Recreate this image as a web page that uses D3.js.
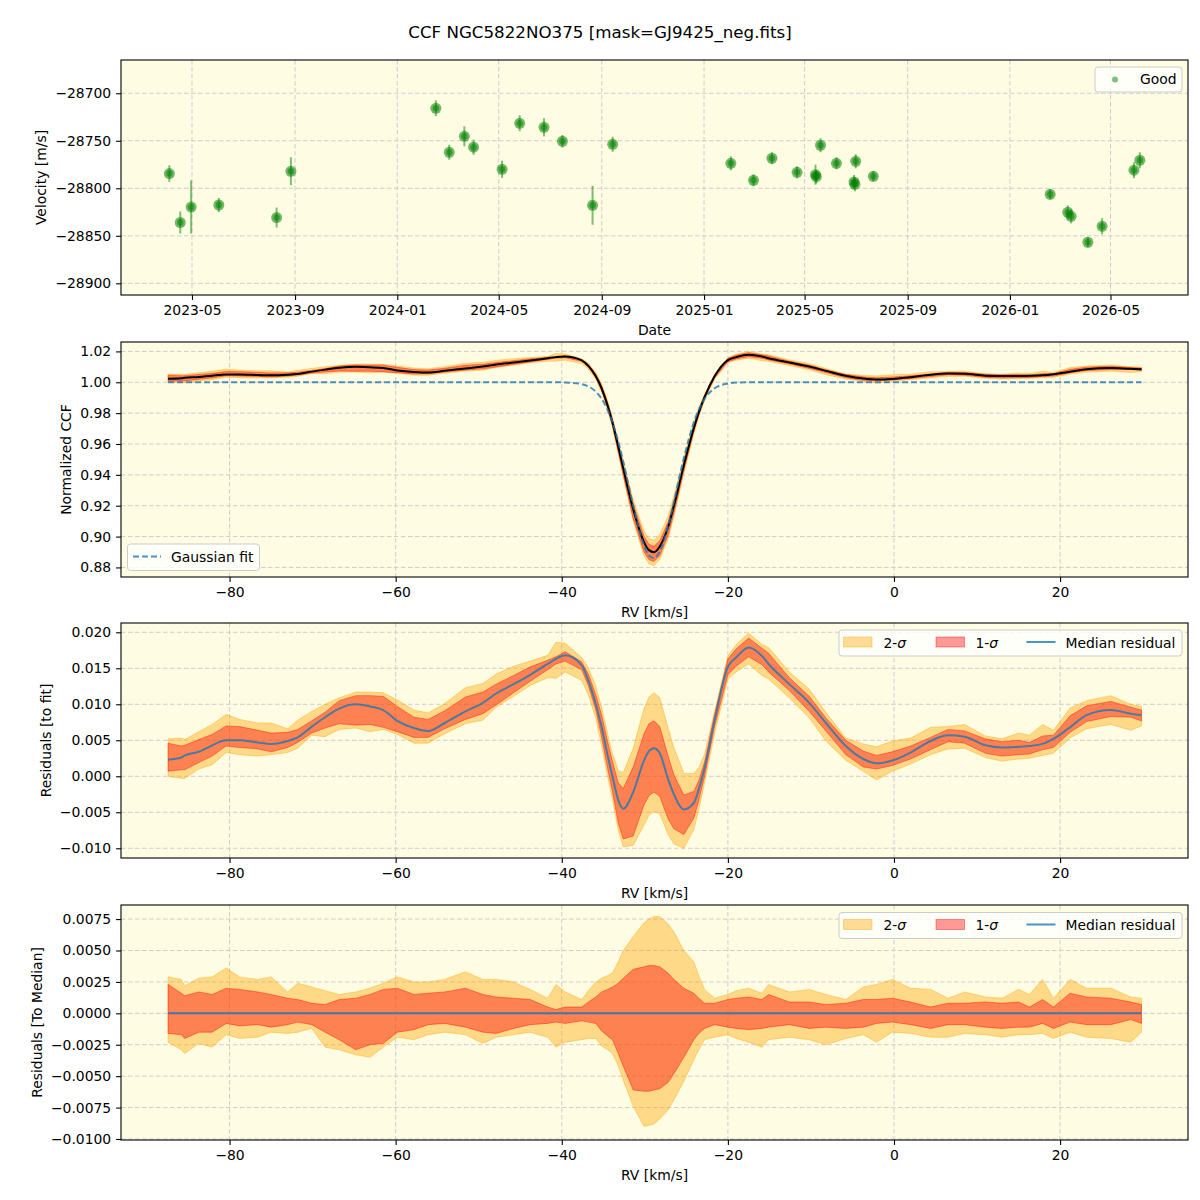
<!DOCTYPE html>
<html>
<head>
<meta charset="utf-8">
<title>CCF NGC5822NO375</title>
<script src="https://cdn.jsdelivr.net/npm/d3@7"></script>
<style>
    body { margin: 0; background: #fff; }
    svg text { font-family: "DejaVu Sans", sans-serif; fill: #000; }
</style>
</head>
<body>
<svg id="chart" width="1200" height="1200"></svg>
<script>
    // ---- RV epochs (top panel) ----
    var obsDates = ["2023-04-04", "2023-04-17", "2023-04-30", "2023-06-02", "2023-08-10", "2023-08-27",
        "2024-02-16", "2024-03-03", "2024-03-21", "2024-04-01", "2024-05-05", "2024-05-26", "2024-06-24",
        "2024-07-16", "2024-08-21", "2024-09-14",
        "2025-02-02", "2025-03-01", "2025-03-23", "2025-04-22", "2025-05-14", "2025-05-15", "2025-05-20",
        "2025-06-08", "2025-07-01", "2025-06-29", "2025-06-30", "2025-07-22",
        "2026-02-18", "2026-03-11", "2026-03-15", "2026-04-04", "2026-04-21", "2026-05-29", "2026-06-05"];
    var obsVel = [-28784.5, -28836.0, -28819.7, -28817.6, -28830.8, -28782.1,
        -28715.8, -28762.1, -28745.3, -28756.8, -28780.0, -28731.6, -28735.8,
        -28750.5, -28817.9, -28753.7,
        -28773.7, -28791.6, -28768.4, -28783.2, -28785.7, -28787.8, -28754.7,
        -28773.7, -28771.6, -28793.4, -28795.8, -28787.4,
        -28806.3, -28825.3, -28829.5, -28856.8, -28840.0, -28781.0, -28770.5];
    var obsErr = [8.7, 11.6, 28.0, 7.4, 10.5, 14.7,
        8.4, 7.9, 10.5, 7.9, 9.0, 8.4, 9.5,
        6.6, 20.5, 7.9,
        7.4, 6.3, 6.3, 6.3, 10.5, 7.0, 7.4,
        6.3, 7.4, 7.4, 7.4, 5.3,
        5.3, 7.4, 7.4, 5.3, 8.4, 8.4, 8.4];

    // ---- CCF profiles (RV grid in km/s) ----
    var rvGrid = [-87.4, -85.8, -85.4, -83.7, -82.1, -80.4, -78.8, -76.6, -75.0, -73.0,
        -71.8, -70.1, -68.5, -66.8, -64.8, -63.1, -61.5, -59.8, -57.8, -56.1,
        -54.1, -51.6, -49.5, -47.9, -45.8, -43.8, -41.7, -40.7, -39.6, -37.6,
        -36.8, -35.9, -35.2, -34.5, -33.9, -33.2, -32.6, -31.4, -30.1, -29.5,
        -28.9, -28.2, -27.2, -26.5, -25.3, -24.1, -23.5, -22.8, -21.6, -20.0,
        -19.0, -17.5, -15.9, -15.1, -12.6, -10.2, -8.2, -5.8, -3.7, -2.1,
        -0.2, 2.0, 4.4, 6.5, 8.5, 11.0, 13.0, 15.0, 16.3, 17.9,
        19.2, 21.2, 23.2, 26.1, 28.5, 29.8];
    var fitCcf = [1.0000, 1.0000, 1.0000, 1.0000, 1.0000, 1.0000, 1.0000, 1.0000, 1.0000, 1.0000,
        1.0000, 1.0000, 1.0000, 1.0000, 1.0000, 1.0000, 1.0000, 1.0000, 1.0000, 1.0000,
        1.0000, 1.0000, 1.0000, 1.0000, 1.0000, 1.0000, 1.0000, 1.0000, 0.9999, 0.9988,
        0.9973, 0.9939, 0.9893, 0.9823, 0.9740, 0.9615, 0.9487, 0.9200, 0.8942, 0.8877,
        0.8860, 0.8904, 0.9066, 0.9224, 0.9509, 0.9740, 0.9823, 0.9893, 0.9961, 0.9992,
        0.9998, 1.0000, 1.0000, 1.0000, 1.0000, 1.0000, 1.0000, 1.0000, 1.0000, 1.0000,
        1.0000, 1.0000, 1.0000, 1.0000, 1.0000, 1.0000, 1.0000, 1.0000, 1.0000, 1.0000,
        1.0000, 1.0000, 1.0000, 1.0000, 1.0000, 1.0000];
    var medianCcf = [1.0023, 1.0026, 1.0029, 1.0034, 1.0043, 1.0050, 1.0050, 1.0047, 1.0045, 1.0049,
        1.0054, 1.0069, 1.0082, 1.0094, 1.0100, 1.0097, 1.0092, 1.0077, 1.0067, 1.0063,
        1.0074, 1.0090, 1.0102, 1.0115, 1.0128, 1.0141, 1.0156, 1.0163, 1.0167, 1.0142,
        1.0106, 1.0039, 0.9961, 0.9853, 0.9740, 0.9582, 0.9442, 0.9178, 0.8964, 0.8912,
        0.8899, 0.8936, 0.9062, 0.9199, 0.9463, 0.9703, 0.9805, 0.9905, 1.0039, 1.0144,
        1.0163, 1.0179, 1.0167, 1.0156, 1.0128, 1.0102, 1.0074, 1.0042, 1.0024, 1.0018,
        1.0022, 1.0033, 1.0049, 1.0057, 1.0055, 1.0043, 1.0040, 1.0041, 1.0042, 1.0045,
        1.0052, 1.0068, 1.0085, 1.0092, 1.0087, 1.0085];
    var medianResid = [0.0023, 0.0026, 0.0029, 0.0034, 0.0043, 0.0050, 0.0050, 0.0047, 0.0045, 0.0049,
        0.0054, 0.0069, 0.0082, 0.0094, 0.0100, 0.0097, 0.0092, 0.0077, 0.0067, 0.0063,
        0.0074, 0.0090, 0.0102, 0.0115, 0.0128, 0.0141, 0.0156, 0.0163, 0.0168, 0.0154,
        0.0133, 0.0100, 0.0068, 0.0030, 0.0000, -0.0033, -0.0045, -0.0022, 0.0022, 0.0035,
        0.0039, 0.0032, -0.0004, -0.0025, -0.0046, -0.0037, -0.0018, 0.0012, 0.0078, 0.0152,
        0.0165, 0.0179, 0.0167, 0.0156, 0.0128, 0.0102, 0.0074, 0.0042, 0.0024, 0.0018,
        0.0022, 0.0033, 0.0049, 0.0057, 0.0055, 0.0043, 0.0040, 0.0041, 0.0042, 0.0045,
        0.0052, 0.0068, 0.0085, 0.0092, 0.0087, 0.0085];
    // spread around the median (bottom panel)
    var sig2Up = [0.0029, 0.0027, 0.0022, 0.0028, 0.0029, 0.0036, 0.0029, 0.0027, 0.0029, 0.0017,
        0.0024, 0.0021, 0.0018, 0.0015, 0.0017, 0.0020, 0.0024, 0.0029, 0.0025, 0.0025,
        0.0027, 0.0033, 0.0027, 0.0027, 0.0025, 0.0019, 0.0012, 0.0023, 0.0017, 0.0011,
        0.0018, 0.0025, 0.0028, 0.0030, 0.0032, 0.0041, 0.0050, 0.0061, 0.0072, 0.0075,
        0.0077, 0.0077, 0.0071, 0.0065, 0.0050, 0.0041, 0.0030, 0.0019, 0.0012, 0.0015,
        0.0018, 0.0020, 0.0016, 0.0023, 0.0017, 0.0019, 0.0015, 0.0011, 0.0021, 0.0023,
        0.0027, 0.0020, 0.0019, 0.0012, 0.0017, 0.0013, 0.0012, 0.0019, 0.0015, 0.0027,
        0.0012, 0.0027, 0.0020, 0.0020, 0.0013, 0.0012];
    var sig1Up = [0.0023, 0.0016, 0.0014, 0.0017, 0.0015, 0.0020, 0.0019, 0.0017, 0.0015, 0.0012,
        0.0011, 0.0008, 0.0007, 0.0011, 0.0012, 0.0015, 0.0019, 0.0020, 0.0015, 0.0016,
        0.0017, 0.0020, 0.0015, 0.0013, 0.0012, 0.0011, 0.0005, 0.0003, 0.0005, 0.0005,
        0.0009, 0.0013, 0.0017, 0.0019, 0.0021, 0.0024, 0.0028, 0.0035, 0.0037, 0.0038,
        0.0038, 0.0037, 0.0032, 0.0027, 0.0020, 0.0016, 0.0012, 0.0008, 0.0008, 0.0011,
        0.0012, 0.0013, 0.0011, 0.0015, 0.0009, 0.0009, 0.0007, 0.0008, 0.0011, 0.0011,
        0.0012, 0.0009, 0.0005, 0.0008, 0.0008, 0.0009, 0.0008, 0.0009, 0.0005, 0.0011,
        0.0005, 0.0016, 0.0013, 0.0012, 0.0009, 0.0007];
    var sig1Lo = [-0.0016, -0.0017, -0.0020, -0.0015, -0.0015, -0.0008, -0.0010, -0.0009, -0.0011, -0.0009,
        -0.0007, -0.0009, -0.0015, -0.0021, -0.0029, -0.0025, -0.0024, -0.0015, -0.0013, -0.0009,
        -0.0008, -0.0011, -0.0015, -0.0016, -0.0012, -0.0009, -0.0008, -0.0007, -0.0008, -0.0006,
        -0.0007, -0.0008, -0.0014, -0.0018, -0.0021, -0.0032, -0.0042, -0.0061, -0.0062, -0.0062,
        -0.0061, -0.0060, -0.0055, -0.0048, -0.0035, -0.0021, -0.0016, -0.0012, -0.0009, -0.0011,
        -0.0012, -0.0013, -0.0012, -0.0011, -0.0009, -0.0012, -0.0011, -0.0012, -0.0011, -0.0008,
        -0.0007, -0.0009, -0.0012, -0.0009, -0.0009, -0.0011, -0.0012, -0.0011, -0.0011, -0.0008,
        -0.0012, -0.0007, -0.0009, -0.0009, -0.0005, -0.0008];
    var sig2Lo = [-0.0023, -0.0029, -0.0032, -0.0024, -0.0027, -0.0017, -0.0020, -0.0019, -0.0015, -0.0016,
        -0.0015, -0.0012, -0.0027, -0.0029, -0.0033, -0.0035, -0.0027, -0.0019, -0.0021, -0.0017,
        -0.0015, -0.0017, -0.0024, -0.0019, -0.0017, -0.0015, -0.0019, -0.0027, -0.0023, -0.0021,
        -0.0020, -0.0020, -0.0026, -0.0029, -0.0032, -0.0042, -0.0053, -0.0074, -0.0090, -0.0089,
        -0.0088, -0.0084, -0.0077, -0.0069, -0.0054, -0.0037, -0.0029, -0.0021, -0.0019, -0.0017,
        -0.0020, -0.0023, -0.0027, -0.0021, -0.0019, -0.0021, -0.0025, -0.0020, -0.0017, -0.0023,
        -0.0015, -0.0016, -0.0019, -0.0019, -0.0016, -0.0017, -0.0019, -0.0017, -0.0017, -0.0016,
        -0.0020, -0.0015, -0.0019, -0.0020, -0.0023, -0.0015];

    // ---- tick labels ----
    var dateTicks = ["2023-05", "2023-09", "2024-01", "2024-05", "2024-09", "2025-01", "2025-05", "2025-09", "2026-01", "2026-05"];
    var rvTicks = [-80, -60, -40, -20, 0, 20];
    var velTicks = [-28900, -28850, -28800, -28750, -28700];
    var ccfTicks = [0.88, 0.90, 0.92, 0.94, 0.96, 0.98, 1.00, 1.02];
    var residTicks = [-0.010, -0.005, 0.000, 0.005, 0.010, 0.015, 0.020];
    var medTicks = [-0.0100, -0.0075, -0.0050, -0.0025, 0.0000, 0.0025, 0.0050, 0.0075];

    var svg = d3.select("#chart");
    var L = 121, R = 1188, H = 235;
    var FS = 13.9;
    var bgColor = "#fefce2";
    var green = "#008000";

    function fmt(n) {
        return function (d) { return d3.format("." + n + "f")(d).replace("-", "\u2212"); };
    }

    svg.append("text").attr("x", 600).attr("y", 38).attr("text-anchor", "middle")
        .style("font-size", "16.7px").text("CCF NGC5822NO375 [mask=GJ9425_neg.fits]");

    function panel(top, x, y, xVals, xFmt, yVals, yFmt, xLabel, yLabel, yLabelX) {
        var g = svg.append("g");
        g.append("rect").attr("x", L).attr("y", top).attr("width", R - L).attr("height", H).attr("fill", bgColor);
        var grid = g.append("g").attr("stroke", "#cdcdd0").attr("stroke-width", 1)
            .attr("stroke-dasharray", "4.5,2.5");
        grid.selectAll(".gx").data(xVals).enter().append("line")
            .attr("x1", function (d) { return x(d); }).attr("x2", function (d) { return x(d); })
            .attr("y1", top).attr("y2", top + H);
        grid.selectAll(".gy").data(yVals).enter().append("line")
            .attr("y1", function (d) { return y(d); }).attr("y2", function (d) { return y(d); })
            .attr("x1", L).attr("x2", R);
        var data = g.append("g");
        var ax = g.append("g");
        var xa = ax.append("g").attr("transform", "translate(0," + (top + H) + ")")
            .call(d3.axisBottom(x).tickValues(xVals).tickFormat(xFmt).tickSizeInner(4.9).tickSizeOuter(0).tickPadding(4.9));
        var ya = ax.append("g").attr("transform", "translate(" + L + ",0)")
            .call(d3.axisLeft(y).tickValues(yVals).tickFormat(yFmt).tickSizeInner(4.9).tickSizeOuter(0).tickPadding(4.9));
        [xa, ya].forEach(function (a) {
            a.attr("font-family", null).attr("font-size", null);
            a.select(".domain").remove();
            a.selectAll("line").attr("stroke", "#000").attr("stroke-width", 1.1);
            a.selectAll("text").style("font-size", FS + "px").attr("fill", "#000");
        });
        ax.append("rect").attr("x", L).attr("y", top).attr("width", R - L).attr("height", H)
            .attr("fill", "none").attr("stroke", "#000").attr("stroke-width", 1.1);
        ax.append("text").attr("x", (L + R) / 2).attr("y", top + H + 40).attr("text-anchor", "middle")
            .style("font-size", FS + "px").text(xLabel);
        ax.append("text").attr("transform", "translate(" + yLabelX + "," + (top + H / 2) + ") rotate(-90)")
            .attr("text-anchor", "middle").attr("dy", "0.35em").style("font-size", FS + "px").text(yLabel);
        return {data: data, ax: ax, top: top};
    }

    function legendBox(p, x0, y0, w, h) {
        return p.ax.append("rect").attr("x", x0).attr("y", y0).attr("width", w).attr("height", h).attr("rx", 3)
            .attr("fill", "#fff").attr("fill-opacity", 0.8).attr("stroke", "#cccccc").attr("stroke-width", 1);
    }

    // ---------- panel 1: RV time series ----------
    var xDate = d3.scaleUtc()
        .domain([new Date("2023-02-05T07:00:00Z"), new Date("2026-08-01T12:00:00Z")]).range([L, R]);
    var yVel = d3.scaleLinear().domain([-28912.3, -28665.0]).range([60 + H, 60]);
    var p1 = panel(60, xDate, yVel, dateTicks.map(function (s) { return new Date(s + "-01"); }),
        d3.utcFormat("%Y-%m"), velTicks, fmt(0), "Date", "Velocity [m/s]", 41);

    var obs = obsDates.map(function (d, i) { return {t: new Date(d), v: obsVel[i], e: obsErr[i]}; });
    p1.data.selectAll(".eb").data(obs).enter().append("line")
        .attr("x1", function (d) { return xDate(d.t); }).attr("x2", function (d) { return xDate(d.t); })
        .attr("y1", function (d) { return yVel(d.v - d.e); }).attr("y2", function (d) { return yVel(d.v + d.e); })
        .attr("stroke", green).attr("stroke-opacity", 0.5).attr("stroke-width", 2);
    p1.data.selectAll(".mk").data(obs).enter().append("circle")
        .attr("cx", function (d) { return xDate(d.t); }).attr("cy", function (d) { return yVel(d.v); })
        .attr("r", 5.5).attr("fill", green).attr("fill-opacity", 0.55);
    p1.data.selectAll(".mk2").data(obs).enter().append("circle")
        .attr("cx", function (d) { return xDate(d.t); }).attr("cy", function (d) { return yVel(d.v); })
        .attr("r", 3.2).attr("fill", green).attr("fill-opacity", 0.5);

    legendBox(p1, 1095, 67, 87, 25);
    p1.ax.append("circle").attr("cx", 1115).attr("cy", 79.5).attr("r", 3).attr("fill", green).attr("fill-opacity", 0.5);
    p1.ax.append("text").attr("x", 1140).attr("y", 84).style("font-size", FS + "px").text("Good");

    // ---------- shared RV scale ----------
    var xRv = d3.scaleLinear().domain([-93.07, 35.4]).range([L, R]);
    var rows = rvGrid.map(function (rv, i) {
        return {rv: rv, fit: fitCcf[i], ccf: medianCcf[i], res: medianResid[i],
            u2: sig2Up[i], u1: sig1Up[i], l1: sig1Lo[i], l2: sig2Lo[i]};
    });

    function bands(p, y, base) {
        var a2 = d3.area().x(function (d) { return xRv(d.rv); })
            .y0(function (d) { return y(base(d) + d.l2); }).y1(function (d) { return y(base(d) + d.u2); });
        var a1 = d3.area().x(function (d) { return xRv(d.rv); })
            .y0(function (d) { return y(base(d) + d.l1); }).y1(function (d) { return y(base(d) + d.u1); });
        p.data.append("path").datum(rows).attr("d", a2).attr("fill", "orange").attr("fill-opacity", 0.4)
            .attr("stroke", "orange").attr("stroke-opacity", 0.4).attr("stroke-width", 1);
        p.data.append("path").datum(rows).attr("d", a1).attr("fill", "red").attr("fill-opacity", 0.4)
            .attr("stroke", "red").attr("stroke-opacity", 0.4).attr("stroke-width", 1);
    }

    function sigmaLegend(p, y0) {
        legendBox(p, 839, y0, 343, 26);
        p.ax.append("rect").attr("x", 843.5).attr("y", y0 + 7).attr("width", 28.5).attr("height", 10)
            .attr("fill", "orange").attr("fill-opacity", 0.4).attr("stroke", "orange").attr("stroke-opacity", 0.4);
        p.ax.append("rect").attr("x", 936).attr("y", y0 + 7).attr("width", 28.5).attr("height", 10)
            .attr("fill", "red").attr("fill-opacity", 0.4).attr("stroke", "red").attr("stroke-opacity", 0.4);
        p.ax.append("line").attr("x1", 1026.5).attr("x2", 1055.5).attr("y1", y0 + 12).attr("y2", y0 + 12)
            .attr("stroke", "#1f77b4").attr("stroke-opacity", 0.8).attr("stroke-width", 2);
        var t1 = p.ax.append("text").attr("x", 883.5).attr("y", y0 + 17.5).style("font-size", FS + "px");
        t1.append("tspan").text("2-");
        t1.append("tspan").style("font-style", "italic").text("\u03c3");
        var t2 = p.ax.append("text").attr("x", 975.5).attr("y", y0 + 17.5).style("font-size", FS + "px");
        t2.append("tspan").text("1-");
        t2.append("tspan").style("font-style", "italic").text("\u03c3");
        p.ax.append("text").attr("x", 1065.5).attr("y", y0 + 17.5).style("font-size", FS + "px").text("Median residual");
    }

    // ---------- panel 2: normalized CCF ----------
    var yCcf = d3.scaleLinear().domain([0.8738, 1.0261]).range([342 + H, 342]);
    var p2 = panel(342, xRv, yCcf, rvTicks, fmt(0), ccfTicks, fmt(2), "RV [km/s]", "Normalized CCF", 66);
    bands(p2, yCcf, function (d) { return d.ccf; });
    p2.data.append("path").datum(rows)
        .attr("d", d3.line().curve(d3.curveMonotoneX).x(function (d) { return xRv(d.rv); }).y(function (d) { return yCcf(d.ccf); }))
        .attr("fill", "none").attr("stroke", "#000").attr("stroke-width", 2);
    p2.data.append("path").datum(rows)
        .attr("d", d3.line().curve(d3.curveMonotoneX).x(function (d) { return xRv(d.rv); }).y(function (d) { return yCcf(d.fit); }))
        .attr("fill", "none").attr("stroke", "#1f77b4").attr("stroke-opacity", 0.8).attr("stroke-width", 2)
        .attr("stroke-dasharray", "6,3");
    legendBox(p2, 127.5, 544, 132, 26.5);
    p2.ax.append("line").attr("x1", 133).attr("x2", 161).attr("y1", 556.5).attr("y2", 556.5)
        .attr("stroke", "#1f77b4").attr("stroke-opacity", 0.8).attr("stroke-width", 2).attr("stroke-dasharray", "6,3");
    p2.ax.append("text").attr("x", 171).attr("y", 561.5).style("font-size", FS + "px").text("Gaussian fit");

    // ---------- panel 3: residuals to fit ----------
    var yRes = d3.scaleLinear().domain([-0.01135, 0.02129]).range([623 + H, 623]);
    var p3 = panel(623, xRv, yRes, rvTicks, fmt(0), residTicks, fmt(3), "RV [km/s]", "Residuals [to fit]", 46);
    bands(p3, yRes, function (d) { return d.res; });
    p3.data.append("path").datum(rows)
        .attr("d", d3.line().curve(d3.curveMonotoneX).x(function (d) { return xRv(d.rv); }).y(function (d) { return yRes(d.res); }))
        .attr("fill", "none").attr("stroke", "#1f77b4").attr("stroke-opacity", 0.8).attr("stroke-width", 2);
    sigmaLegend(p3, 630);

    // ---------- panel 4: residuals to median ----------
    var yMed = d3.scaleLinear().domain([-0.01008, 0.00862]).range([905 + H, 905]);
    var p4 = panel(905, xRv, yMed, rvTicks, fmt(0), medTicks, fmt(4), "RV [km/s]", "Residuals [To Median]", 37);
    bands(p4, yMed, function () { return 0; });
    p4.data.append("path").datum(rows)
        .attr("d", d3.line().x(function (d) { return xRv(d.rv); }).y(function (d) { return yMed(d.res - d.res); }))
        .attr("fill", "none").attr("stroke", "#1f77b4").attr("stroke-opacity", 0.85).attr("stroke-width", 2);
    sigmaLegend(p4, 912.5);
</script>
</body>
</html>
